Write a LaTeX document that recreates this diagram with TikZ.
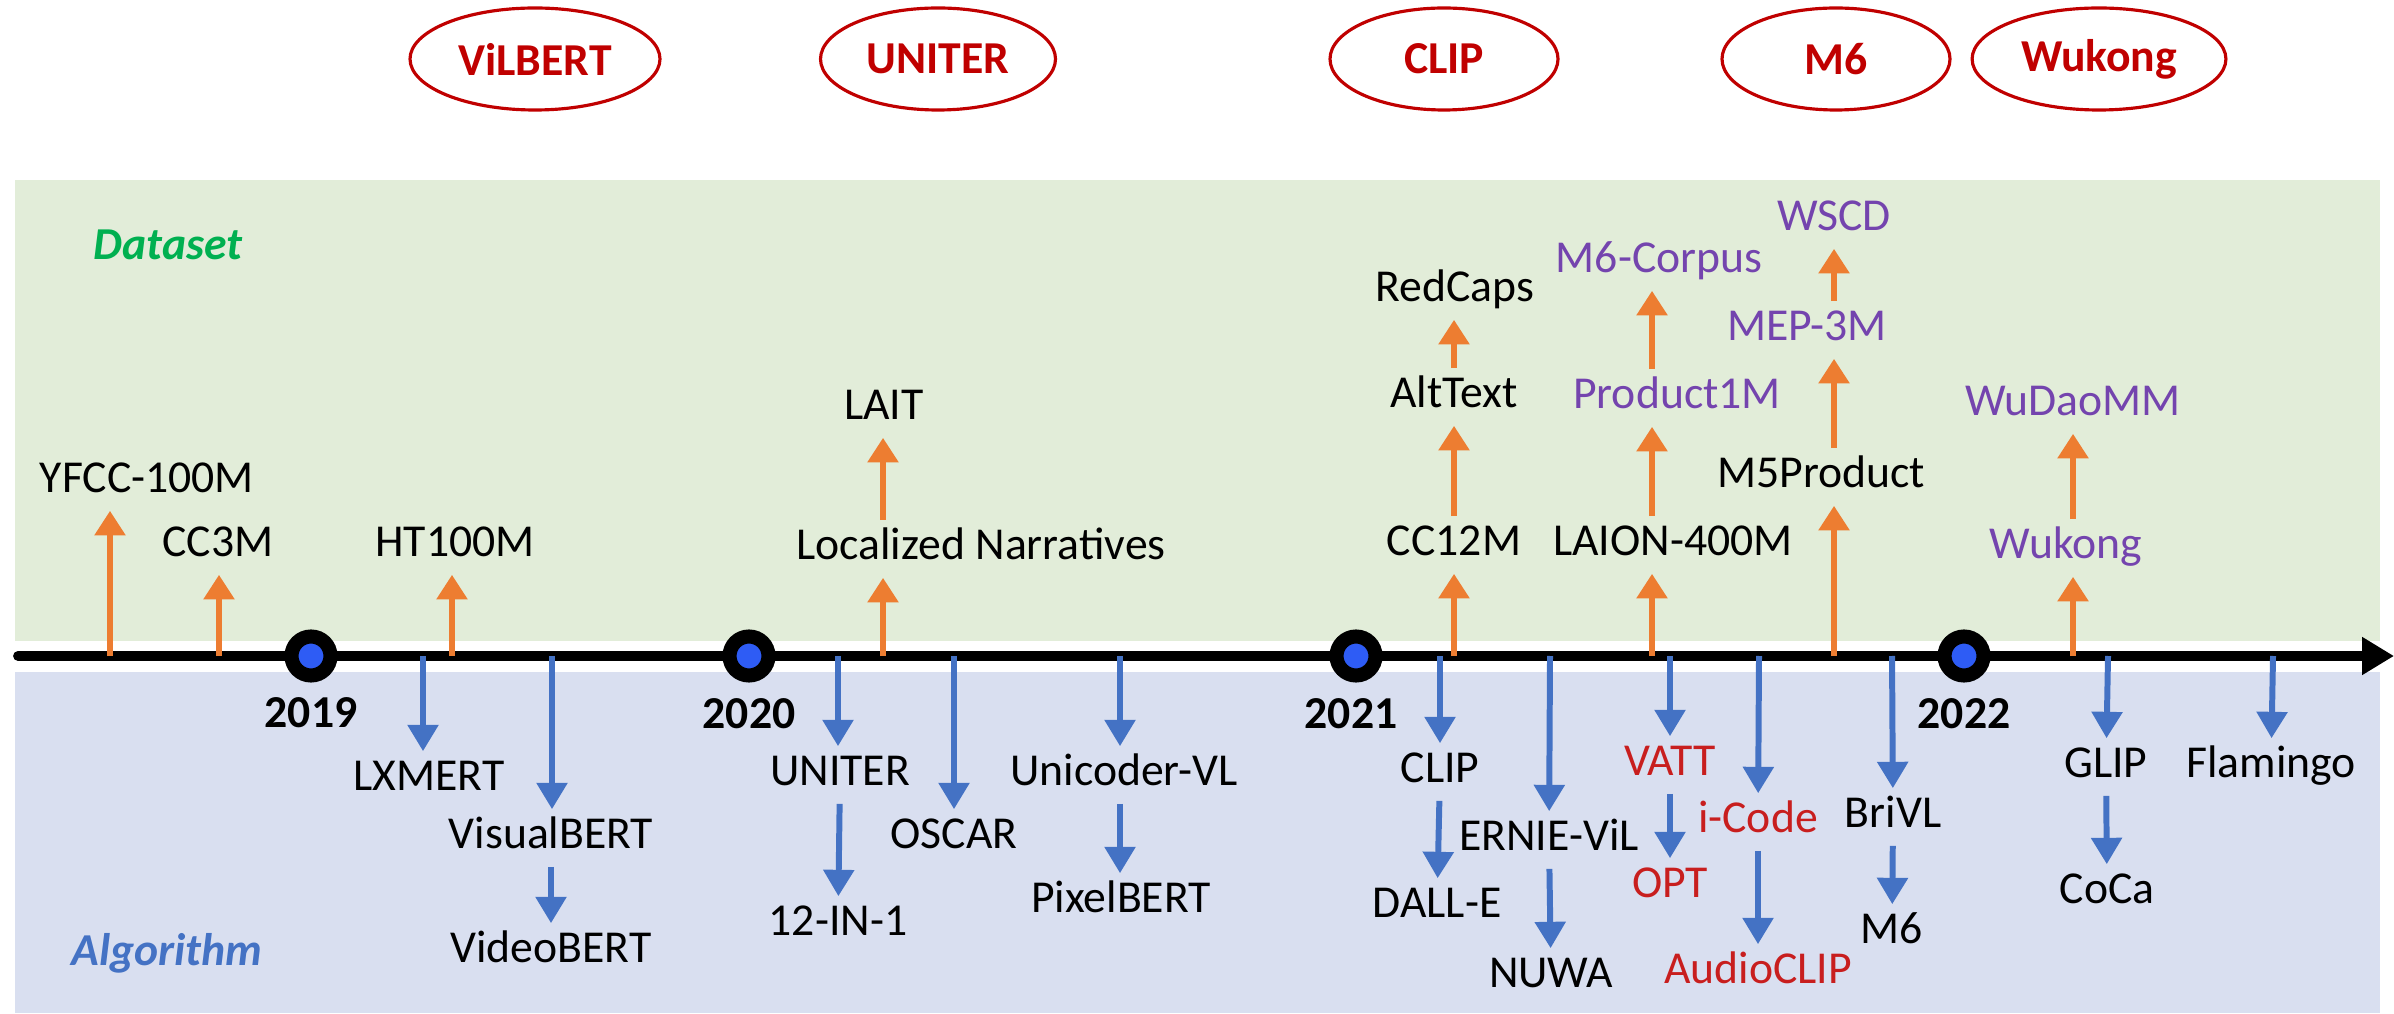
\documentclass[tikz,border=0pt]{standalone}
\usepackage{fontspec}
\setmainfont{Carlito}
\usetikzlibrary{arrows.meta,shapes.geometric}
\definecolor{dsetbg}{HTML}{E2EDD9}
\definecolor{algobg}{HTML}{D9DFF0}
\definecolor{orarr}{HTML}{ED7D31}
\definecolor{blarr}{HTML}{4472C4}
\definecolor{purp}{HTML}{7444AE}
\definecolor{redtxt}{HTML}{C81E1E}
\definecolor{darkred}{HTML}{C00000}
\definecolor{dsetgreen}{HTML}{00B050}
\definecolor{dotblue}{HTML}{2E5CF5}

\begin{document}
\begin{tikzpicture}[
  lbl/.style={font=\fontsize{13}{15}\selectfont, inner sep=2pt, text height=9pt, text depth=3pt},
  uparr/.style={orarr, line width=1.7pt, -{Triangle[length=7pt,width=8.5pt]}},
  dnarr/.style={blarr, line width=1.7pt, -{Triangle[length=7.5pt,width=8.5pt]}},
  yr/.style={circle, draw=black, fill=dotblue, line width=4pt, minimum size=0.39cm, inner sep=0pt},
  yrlbl/.style={font=\fontsize{13}{15}\selectfont\bfseries},
  paper/.style={ellipse, draw=darkred, line width=0.9pt, minimum width=2.28cm, minimum height=1.02cm,
    text=darkred, font=\fontsize{13}{15}\selectfont\bfseries}
]
\useasboundingbox (0,0) rectangle (23.94,10.13);

% Faixas
\fill[dsetbg] (0.15,3.72) rectangle (23.80,8.33);
\fill[algobg] (0.15,0) rectangle (23.80,3.41);
\node[font=\fontsize{13}{15}\selectfont\bfseries\itshape, text=dsetgreen] (dsetlbl) at (1.68,7.68) {Dataset};
\node[font=\fontsize{13}{15}\selectfont\bfseries\itshape, text=blarr] (algolbl) at (1.67,0.60) {Algorithm};

% Marcos
\node[paper] (p-vilbert) at (5.35,9.54) {ViLBERT};
\node[paper] (p-uniter) at (9.38,9.54) {UNITER};
\node[paper] (p-clip) at (14.44,9.54) {CLIP};
\node[paper] (p-msix) at (18.36,9.54) {M6};
\node[paper] (p-wukong) at (20.99,9.54) {Wukong};

% Linha do tempo
\draw[line width=2.8pt, line cap=round, -{Triangle[length=0.32cm,width=0.36cm]}] (0.18,3.57) -- (23.94,3.57);

% Pontos no eixo
\coordinate (t-yfcc) at (1.10,3.57);
\coordinate (t-cc3m) at (2.19,3.57);
\coordinate (t-lxmert) at (4.23,3.57);
\coordinate (t-ht) at (4.52,3.57);
\coordinate (t-vbert) at (5.52,3.57);
\coordinate (t-uniter) at (8.38,3.57);
\coordinate (t-locn) at (8.83,3.57);
\coordinate (t-oscar) at (9.54,3.57);
\coordinate (t-unicoder) at (11.20,3.57);
\coordinate (t-clip) at (14.40,3.57);
\coordinate (t-cc12m) at (14.54,3.57);
\coordinate (t-ernie) at (15.50,3.57);
\coordinate (t-laion) at (16.52,3.57);
\coordinate (t-vatt) at (16.70,3.57);
\coordinate (t-icode) at (17.59,3.57);
\coordinate (t-mfive) at (18.34,3.57);
\coordinate (t-brivl) at (18.92,3.57);
\coordinate (t-wukong) at (20.73,3.57);
\coordinate (t-glip) at (21.08,3.57);
\coordinate (t-flamingo) at (22.73,3.57);

% Anos
\node[yr] (y19) at (3.11,3.57) {};
\node[yr] (y20) at (7.49,3.57) {};
\node[yr] (y21) at (13.56,3.57) {};
\node[yr] (y22) at (19.64,3.57) {};
\node[yrlbl] (l19) at (3.11,3.00) {2019};
\node[yrlbl] (l20) at (7.49,2.99) {2020};
\node[yrlbl] (l21) at (13.51,2.99) {2021};
\node[yrlbl] (l22) at (19.64,2.99) {2022};

% Datasets
\node[lbl] (yfcc) at (1.47,5.31) {YFCC-100M};
\node[lbl] (cc3m) at (2.18,4.67) {CC3M};
\node[lbl] (ht100m) at (4.55,4.67) {HT100M};
\node[lbl] (locnarr) at (9.81,4.64) {Localized Narratives};
\node[lbl] (lait) at (8.84,6.04) {LAIT};
\node[lbl] (cc12m) at (14.54,4.68) {CC12M};
\node[lbl] (alttext) at (14.54,6.16) {AltText};
\node[lbl] (redcaps) at (14.55,7.22) {RedCaps};
\node[lbl] (laion) at (16.73,4.68) {LAION-400M};
\node[lbl, text=purp] (prodonem) at (16.77,6.15) {Product1M};
\node[lbl, text=purp] (mcorpus) at (16.59,7.51) {M6-Corpus};
\node[lbl] (mfiveprod) at (18.21,5.36) {M5Product};
\node[lbl, text=purp] (mep) at (18.07,6.83) {MEP-3M};
\node[lbl, text=purp] (wscd) at (18.34,7.93) {WSCD};
\node[lbl, text=purp] (wukong) at (20.66,4.65) {Wukong};
\node[lbl, text=purp] (wudao) at (20.73,6.08) {WuDaoMM};

\draw[uparr] (t-yfcc) -- (t-yfcc |- yfcc.south);
\draw[uparr] (t-cc3m) -- (t-cc3m |- cc3m.south);
\draw[uparr] (t-ht) -- (t-ht |- ht100m.south);
\draw[uparr] (t-locn) -- (t-locn |- locnarr.south);
\draw[uparr] (t-locn |- locnarr.north) -- (t-locn |- lait.south);
\draw[uparr] (t-cc12m) -- (cc12m);
\draw[uparr] (cc12m) -- (alttext);
\draw[uparr] (alttext) -- (t-cc12m |- redcaps.south);
\draw[uparr] (t-laion) -- (t-laion |- laion.south);
\draw[uparr] (t-laion |- laion.north) -- (t-laion |- prodonem.south);
\draw[uparr] (t-laion |- prodonem.north) -- (t-laion |- mcorpus.south);
\draw[uparr] (t-mfive) -- (t-mfive |- mfiveprod.south);
\draw[uparr] (t-mfive |- mfiveprod.north) -- (t-mfive |- mep.south);
\draw[uparr] (t-mfive |- mep.north) -- (t-mfive |- wscd.south);
\draw[uparr] (t-wukong) -- (t-wukong |- wukong.south);
\draw[uparr] (t-wukong |- wukong.north) -- (t-wukong |- wudao.south);

% Algoritmos
\node[lbl] (lxmert) at (4.29,2.33) {LXMERT};
\node[lbl] (visualbert) at (5.51,1.75) {VisualBERT};
\node[lbl] (videobert) at (5.51,0.61) {VideoBERT};
\node[lbl] (uniter) at (8.40,2.38) {UNITER};
\node[lbl] (twelve) at (8.38,0.88) {12-IN-1};
\node[lbl] (oscar) at (9.54,1.75) {OSCAR};
\node[lbl] (unicoder) at (11.24,2.38) {Unicoder-VL};
\node[lbl] (pixelbert) at (11.21,1.11) {PixelBERT};
\node[lbl] (clip) at (14.40,2.41) {CLIP};
\node[lbl] (dalle) at (14.37,1.06) {DALL-E};
\node[lbl] (ernie) at (15.49,1.73) {ERNIE-ViL};
\node[lbl] (nuwa) at (15.51,0.36) {NUWA};
\node[lbl, text=redtxt] (vatt) at (16.70,2.48) {VATT};
\node[lbl, text=redtxt] (opt) at (16.70,1.26) {OPT};
\node[lbl, text=redtxt] (icode) at (17.58,1.91) {i-Code};
\node[lbl, text=redtxt] (audioclip) at (17.58,0.40) {AudioCLIP};
\node[lbl] (brivl) at (18.93,1.96) {BriVL};
\node[lbl] (msix) at (18.92,0.80) {M6};
\node[lbl] (glip) at (21.06,2.46) {GLIP};
\node[lbl] (coca) at (21.07,1.20) {CoCa};
\node[lbl] (flamingo) at (22.71,2.46) {Flamingo};

\draw[dnarr] (t-lxmert) -- (t-lxmert |- lxmert.north);
\draw[dnarr] (t-vbert) -- (t-vbert |- visualbert.north);
\draw[dnarr] (visualbert) -- (videobert);
\draw[dnarr] (t-uniter) -- (t-uniter |- uniter.north);
\draw[dnarr] (uniter) -- (twelve);
\draw[dnarr] (t-oscar) -- (oscar);
\draw[dnarr] (t-unicoder) -- (t-unicoder |- unicoder.north);
\draw[dnarr] (t-unicoder |- unicoder.south) -- (t-unicoder |- pixelbert.north);
\draw[dnarr] (t-clip) -- (clip);
\draw[dnarr] (clip) -- (dalle);
\draw[dnarr] (t-ernie) -- (ernie);
\draw[dnarr] (ernie) -- (nuwa);
\draw[dnarr] (t-vatt) -- (vatt);
\draw[dnarr] (vatt) -- (opt);
\draw[dnarr] (t-icode) -- (icode);
\draw[dnarr] (icode) -- (audioclip);
\draw[dnarr] (t-brivl) -- (brivl);
\draw[dnarr] (brivl) -- (msix);
\draw[dnarr] (t-glip) -- (glip);
\draw[dnarr] (glip) -- (coca);
\draw[dnarr] (t-flamingo) -- (flamingo);
\end{tikzpicture}
\end{document}
